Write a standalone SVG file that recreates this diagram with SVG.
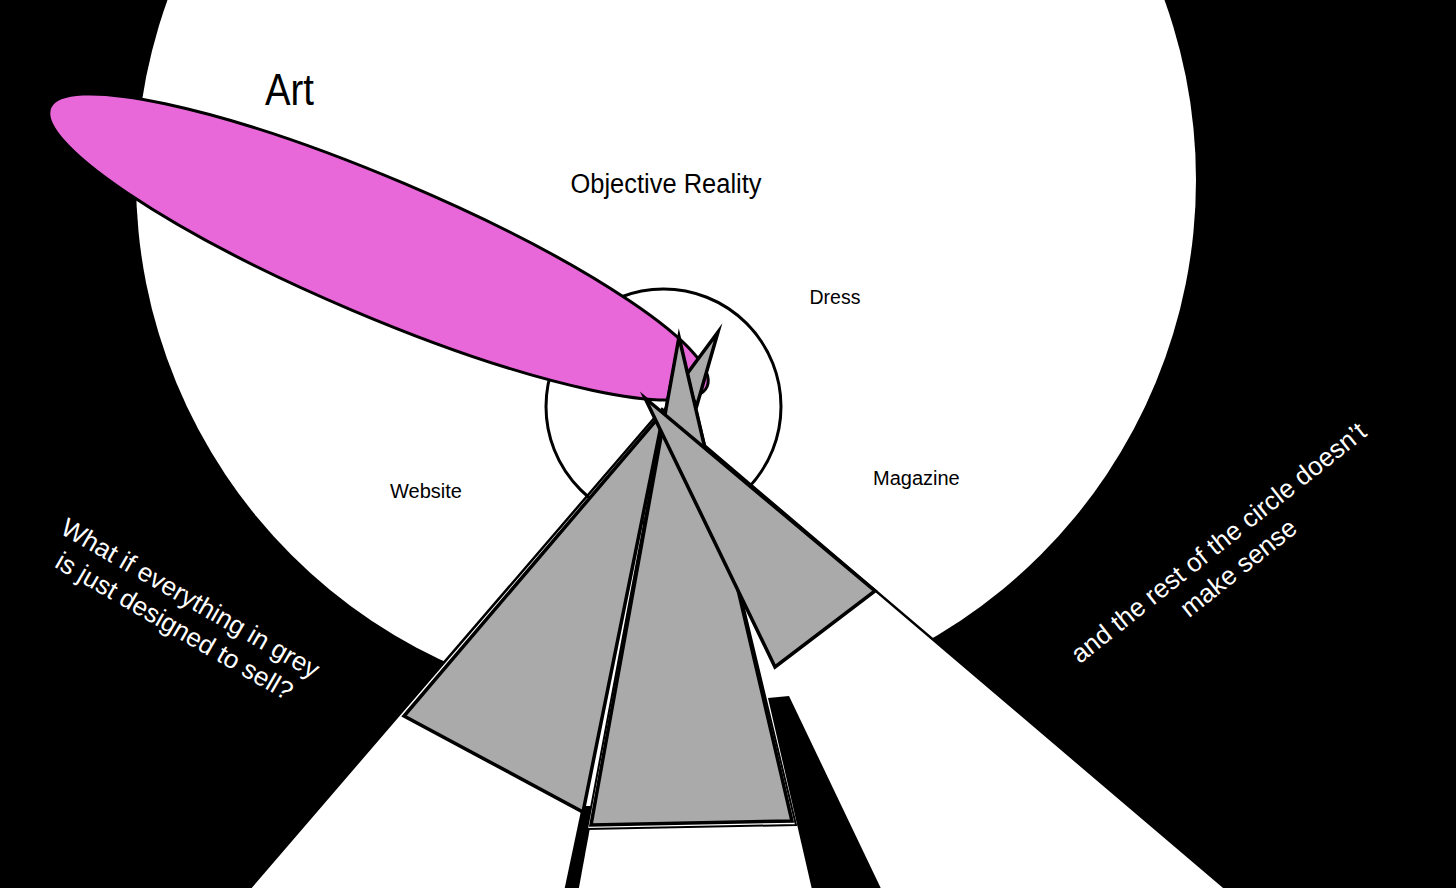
<svg xmlns="http://www.w3.org/2000/svg" width="1456" height="888" viewBox="0 0 1456 888">
<style>
.lbl{font-family:"Liberation Sans",Arial,sans-serif;fill:#000}
.wlbl{font-family:"Liberation Sans",Arial,sans-serif;fill:#fff;font-size:26px}
.tri{fill:#aaaaaa;stroke:#000;stroke-width:3.5;stroke-linejoin:miter;stroke-miterlimit:12}
</style>
<rect width="1456" height="888" fill="#000"/>
<g id="objective-reality">
  <circle cx="666" cy="180" r="530" fill="#fff"/>
  <text class="lbl" x="570.5" y="193" font-size="27" textLength="191" lengthAdjust="spacingAndGlyphs">Objective Reality</text>
</g>
<g id="connectors">
  <polygon points="662,409 222.5,920 1262.6,920" fill="#fff" stroke="#000" stroke-width="2.5"/>
  <polygon points="768,698 789,696 896,920 819,920" fill="#000"/>
  <polygon points="582,806 594,806 573,920 558,920" fill="#000"/>
</g>
<g id="dress">
  <circle cx="663.5" cy="406.5" r="117.5" fill="none" stroke="#000" stroke-width="3"/>
  <text class="lbl" x="809.5" y="304" font-size="19.5">Dress</text>
</g>
<g id="art">
  <ellipse cx="378.5" cy="247" rx="357" ry="68.5" transform="rotate(23 378.5 247)" fill="#e868da" stroke="#000" stroke-width="3"/>
  <text class="lbl" x="265" y="105" font-size="44" textLength="49" lengthAdjust="spacingAndGlyphs">Art</text>
</g>
<g id="website">
  <polygon class="tri" points="664,411 404,716 583,812"/>
  <text class="lbl" x="390" y="498" font-size="20">Website</text>
</g>
<g id="spike">
  <polygon class="tri" points="718,332 681,382 697,405" stroke-width="3.8"/>
</g>
<g id="product">
  <polygon points="679,337 587,829 796,825" fill="#fff" stroke="#000" stroke-width="2" stroke-miterlimit="12"/>
  <polygon class="tri" points="679,337 591,825 792,821"/>
</g>
<g id="magazine">
  <polygon class="tri" points="645,398 875,591 775,667"/>
  <text class="lbl" x="873" y="485" font-size="20">Magazine</text>
</g>
<g id="note-left">
  <text class="wlbl" text-anchor="middle" transform="translate(186,606) rotate(30)"><tspan x="0" y="0">What if everything in grey</tspan><tspan x="0" y="32">is just designed to sell?</tspan></text>
</g>
<g id="note-right">
  <text class="wlbl" text-anchor="middle" transform="translate(1224,549.5) rotate(-38.5)"><tspan x="0" y="0">and the rest of the circle doesn’t</tspan><tspan x="0" y="32">make sense</tspan></text>
</g>
</svg>
